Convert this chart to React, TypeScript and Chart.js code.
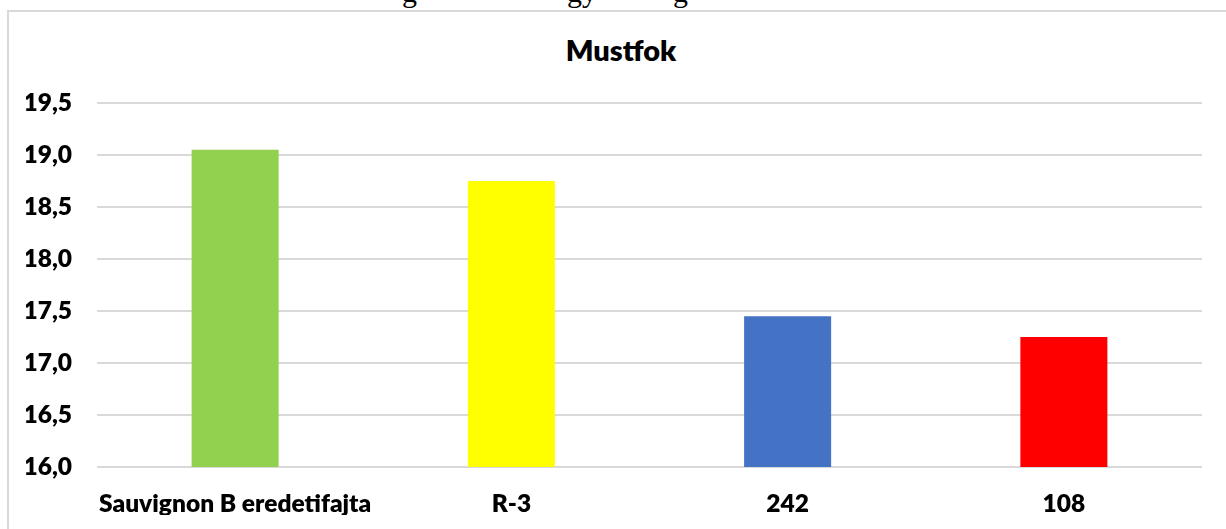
import React, { useEffect, useRef } from "react";
import { Chart, registerables } from "chart.js";

Chart.register(...registerables);

// Mustfok (must sugar degree) per clone
const categories = ["Sauvignon B eredetifajta", "R-3", "242", "108"];
const mustfok = [19.05, 18.75, 17.45, 17.25];
const barColors = ["#92d050", "#ffff00", "#4472c4", "#ff0000"];
const yMin = 16;
const yMax = 19.5;
const yStep = 0.5;

const FONT = "Lato, 'Open Sans', sans-serif";

export default function App() {
  const canvasRef = useRef<HTMLCanvasElement | null>(null);

  useEffect(() => {
    const canvas = canvasRef.current;
    if (!canvas) return;
    const chart = new Chart(canvas, {
      type: "bar",
      data: {
        labels: categories,
        datasets: [
          {
            label: "Mustfok",
            data: mustfok,
            backgroundColor: barColors,
            borderWidth: 0,
            categoryPercentage: 1,
            barPercentage: 0.315,
          },
        ],
      },
      options: {
        animation: false,
        responsive: false,
        maintainAspectRatio: false,
        layout: { padding: { left: 26, right: 24, top: 103, bottom: 14 } },
        plugins: {
          legend: { display: false },
          title: { display: false },
          tooltip: { enabled: false },
        },
        scales: {
          x: {
            grid: { display: false, drawTicks: false },
            border: { display: false },
            ticks: {
              color: "#000",
              padding: 22,
              font: { family: FONT, size: 24.5, weight: 800 },
              maxRotation: 0,
              autoSkip: false,
            },
            afterFit: (scale: any) => {
              scale.height = 48;
              scale.paddingLeft = 0;
              scale.paddingRight = 0;
            },
          },
          y: {
            min: yMin,
            max: yMax,
            grid: { color: "#d9d9d9", lineWidth: 2, drawTicks: false },
            border: { display: false },
            ticks: {
              stepSize: yStep,
              color: "#000",
              padding: 25,
              font: { family: FONT, size: 24.5, weight: 800 },
              callback: (v) => Number(v).toFixed(1).replace(".", ","),
            },
            afterFit: (scale: any) => {
              scale.width = 71;
            },
          },
        },
      },
    });
    return () => chart.destroy();
  }, []);

  return (
    <div
      style={{
        position: "fixed",
        left: 0,
        top: 0,
        width: 1226,
        height: 529,
        overflow: "hidden",
        background: "#fff",
      }}
    >
      <div
        style={{
          position: "absolute",
          left: 0,
          top: 0,
          width: 1226,
          height: 9,
          overflow: "hidden",
          fontFamily: "'Liberation Serif', 'Times New Roman', serif",
          fontSize: 30,
          lineHeight: "30px",
          color: "#000",
        }}
      >
        <span style={{ position: "absolute", left: 402, top: -23 }}>g</span>
        <span style={{ position: "absolute", left: 567, top: -23 }}>gy</span>
        <span style={{ position: "absolute", left: 673, top: -23 }}>g</span>
      </div>
      <div
        style={{
          position: "absolute",
          left: 7,
          top: 10,
          width: 1260,
          height: 560,
          border: "2px solid #d9d9d9",
          boxSizing: "border-box",
        }}
      />
      <div
        style={{
          position: "absolute",
          left: 0,
          top: 31.5,
          width: 1242,
          textAlign: "center",
          fontFamily: FONT,
          fontWeight: 800,
          fontSize: 29,
          lineHeight: "35px",
          color: "#000",
        }}
      >
        Mustfok
      </div>
      <canvas
        ref={canvasRef}
        width={1226}
        height={529}
        style={{ position: "absolute", left: 0, top: 0, width: 1226, height: 529 }}
      />
    </div>
  );
}
